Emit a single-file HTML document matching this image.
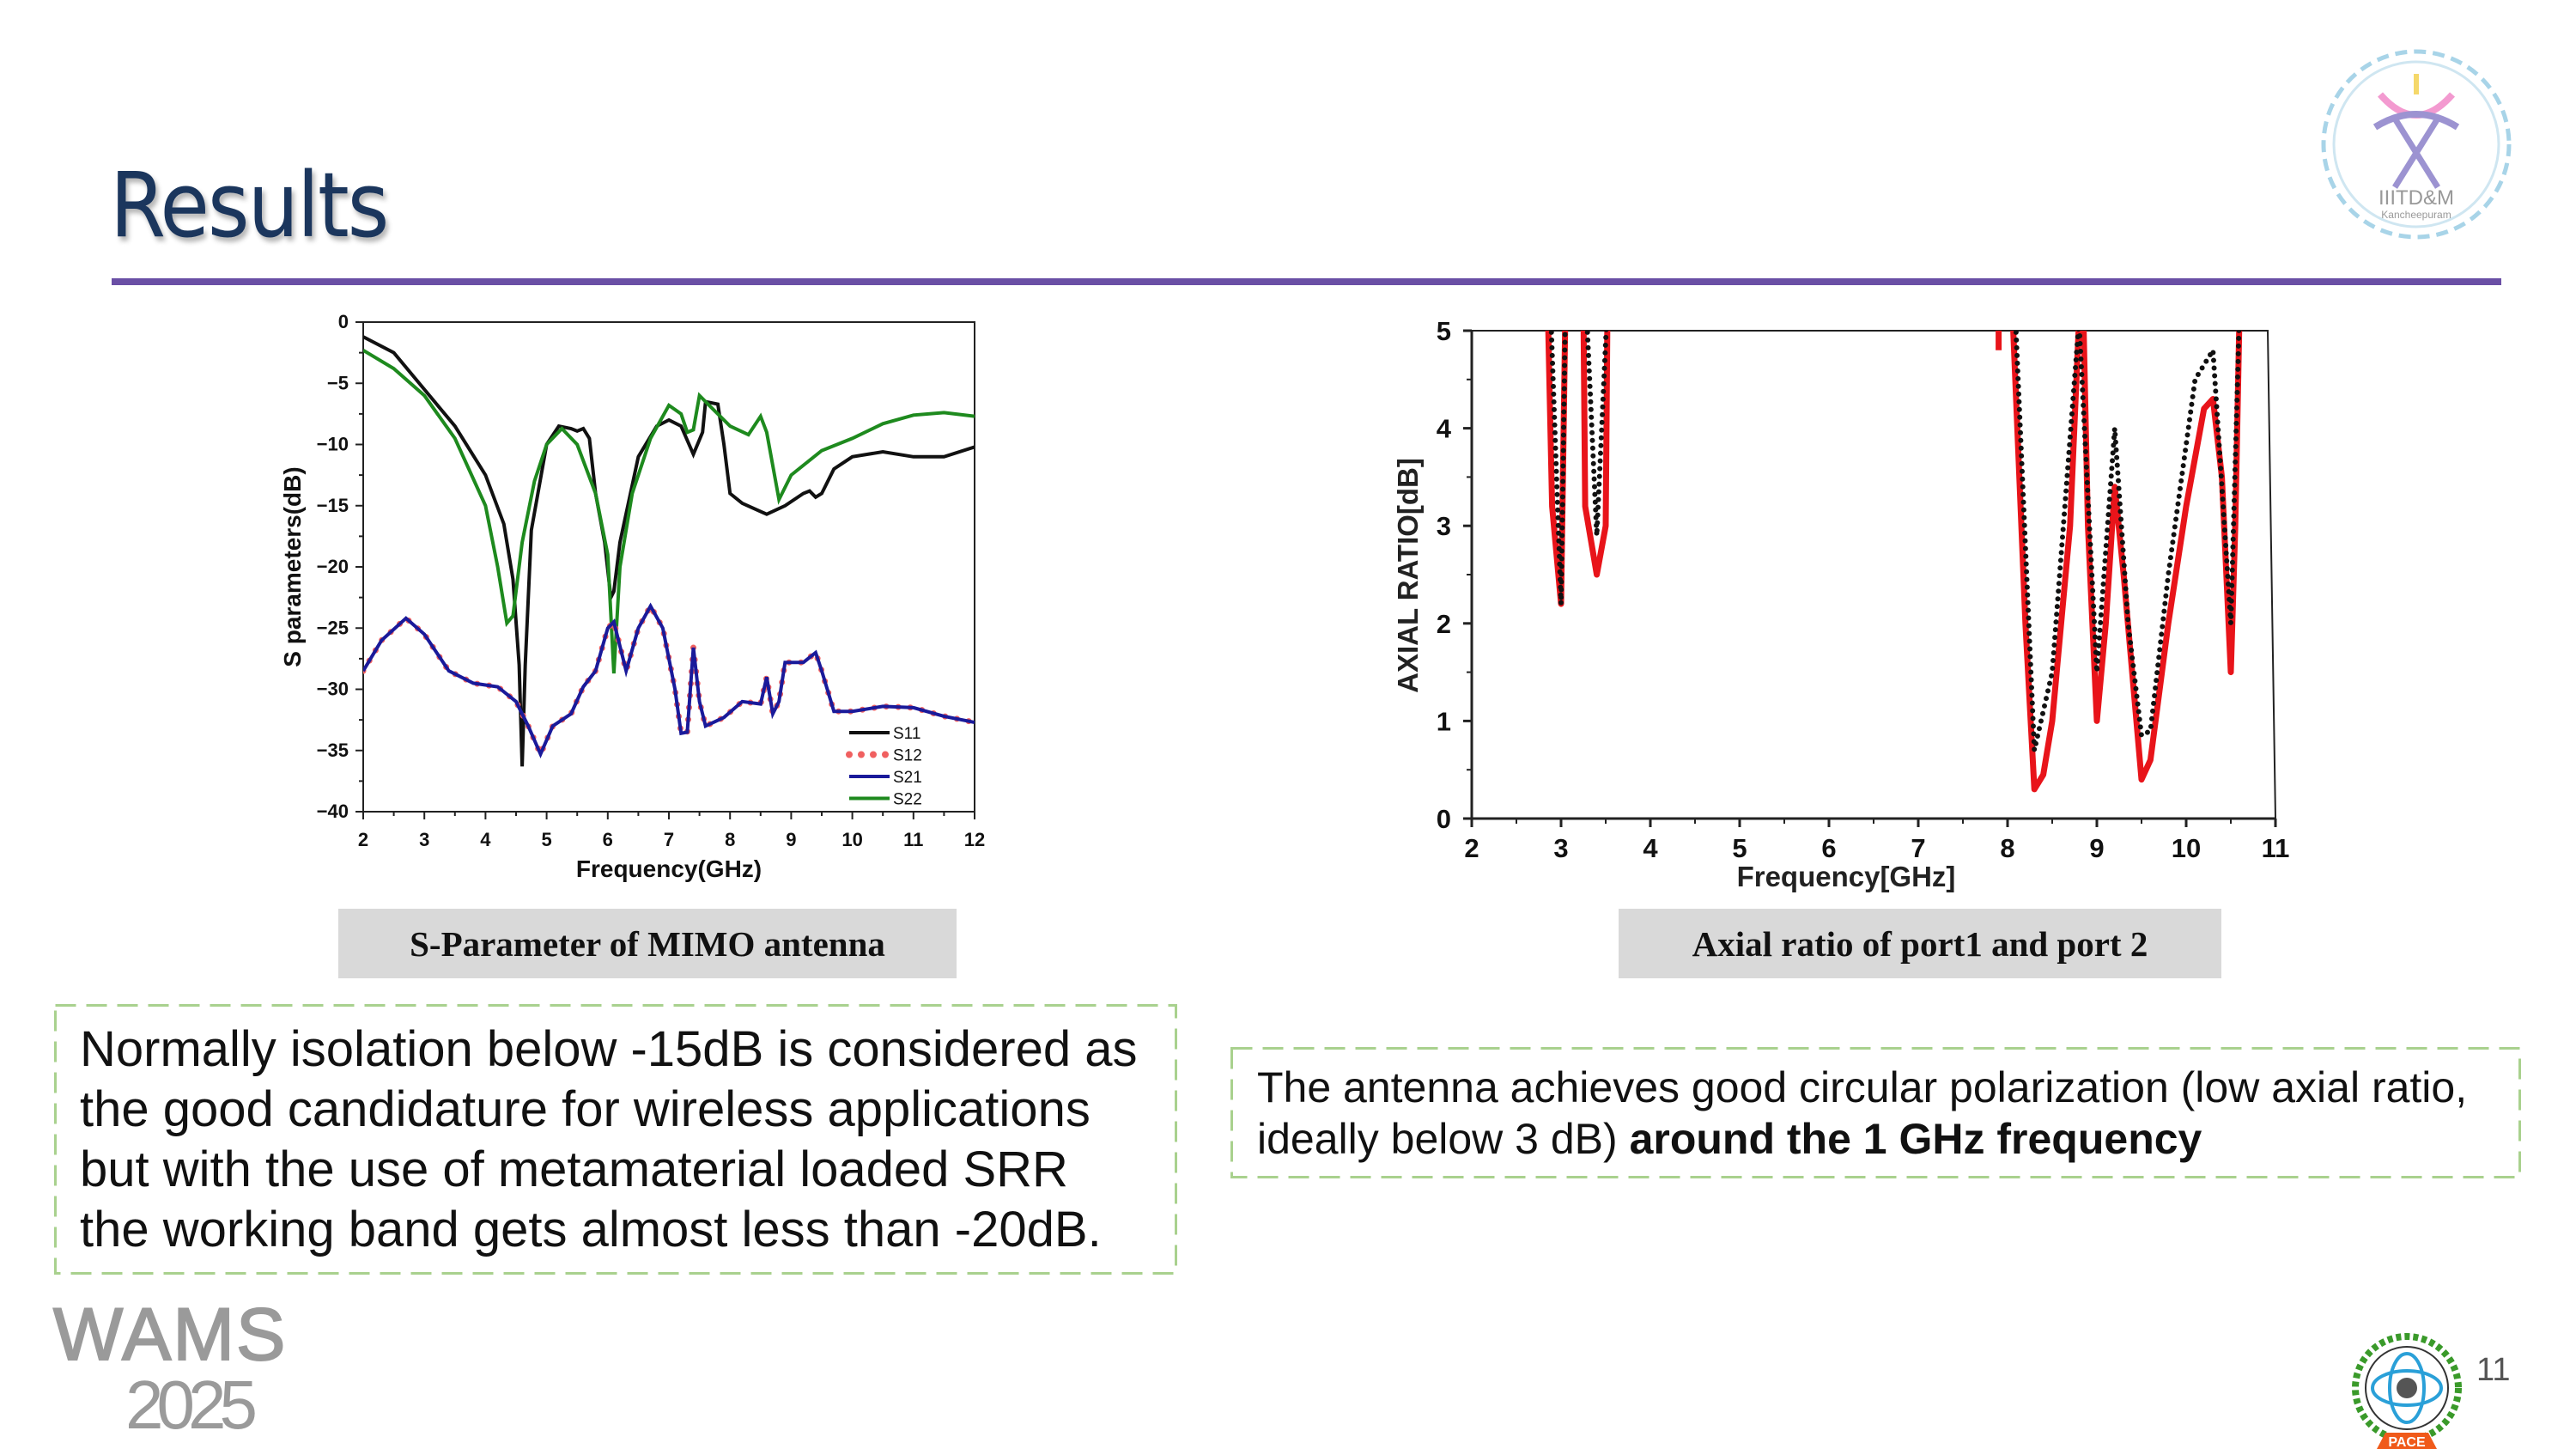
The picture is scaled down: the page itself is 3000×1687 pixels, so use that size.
<!DOCTYPE html>
<html><head><meta charset="utf-8"><style>
html,body{margin:0;padding:0;background:#fff;}
body{width:3000px;height:1687px;position:relative;overflow:hidden;font-family:"Liberation Sans",sans-serif;}
.abs{position:absolute;}
.cap{position:absolute;background:#d9d9d9;font-family:"Liberation Serif",serif;font-weight:bold;font-size:41px;color:#111;display:flex;align-items:center;justify-content:center;}
.box{position:absolute;box-sizing:border-box;color:#111;}
.box svg{position:absolute;left:0;top:0;}
</style></head><body>
<div class="abs" style="left:128px;top:178px;font-size:104px;color:#1b365d;font-family:'DejaVu Sans Condensed','Liberation Sans Narrow',sans-serif;text-shadow:3px 5px 6px rgba(0,0,0,0.3);letter-spacing:-2px;">Results</div>
<div class="abs" style="left:130px;top:324px;width:2783px;height:8px;background:#6a4fa5;"></div>

<svg class="abs" style="left:2694px;top:48px" width="240" height="240" viewBox="0 0 240 240">
<circle cx="120" cy="120" r="108" fill="none" stroke="#a8d4e8" stroke-width="5" stroke-dasharray="14 8"/>
<circle cx="120" cy="120" r="96" fill="none" stroke="#cfe6f1" stroke-width="3"/>
<line x1="120" y1="38" x2="120" y2="62" stroke="#f5d86a" stroke-width="6"/>
<path d="M78 62 Q120 110 162 62" fill="none" stroke="#f39ad0" stroke-width="8"/>
<path d="M72 100 Q120 70 168 100" fill="none" stroke="#9c93d1" stroke-width="8"/>
<path d="M95 170 L145 90 M145 170 L95 90" stroke="#9c93d1" stroke-width="7"/>
<text x="120" y="190" text-anchor="middle" font-size="24" fill="#999" font-family="Liberation Sans">IIITD&amp;M</text>
<text x="120" y="206" text-anchor="middle" font-size="12" fill="#999" font-family="Liberation Sans">Kancheepuram</text>
</svg>

<svg class="abs" style="left:0;top:0" width="1500" height="1060" id="chart1"></svg>
<svg class="abs" style="left:1500px;top:0" width="1300" height="1060" id="chart2"></svg>

<div class="cap" style="left:394px;top:1058px;width:720px;height:81px;">S-Parameter of MIMO antenna</div>
<div class="cap" style="left:1885px;top:1058px;width:702px;height:81px;">Axial ratio of port1 and port 2</div>

<div class="box" style="left:63px;top:1169px;width:1308px;height:315px;padding:18px 0 0 30px;font-size:58px;line-height:70px;"><svg width="1308" height="315"><rect x="1.5" y="1.5" width="1305" height="312" fill="none" stroke="#a9d18e" stroke-width="3" stroke-dasharray="24 12"/></svg><span style="position:relative">Normally isolation below -15dB is considered as<br>the good candidature for wireless applications<br>but with the use of metamaterial loaded SRR<br>the working band gets almost less than -20dB.</span></div>
<div class="box" style="left:1433px;top:1219px;width:1503px;height:153px;padding:17px 0 0 31px;font-size:50px;line-height:60px;"><svg width="1503" height="153"><rect x="1.5" y="1.5" width="1500" height="150" fill="none" stroke="#a9d18e" stroke-width="3" stroke-dasharray="24 12"/></svg><span style="position:relative">The antenna achieves good circular polarization (low axial ratio,<br>ideally below 3 dB) <b>around the 1 GHz frequency</b></span></div>

<div class="abs" style="left:62px;top:1505px;font-size:86px;color:#9a9a9a;letter-spacing:2px;-webkit-text-stroke:2px #9a9a9a;">WAMS</div>
<div class="abs" style="left:146px;top:1590px;font-size:80px;color:#9a9a9a;letter-spacing:-8px;">2025</div>

<svg class="abs" style="left:2733px;top:1550px" width="140" height="137" viewBox="0 0 140 137">
<circle cx="70" cy="66" r="60" fill="none" stroke="#3a9a2a" stroke-width="8" stroke-dasharray="6 4"/>
<circle cx="70" cy="66" r="48" fill="none" stroke="#333" stroke-width="2"/>
<ellipse cx="70" cy="66" rx="20" ry="40" fill="none" stroke="#2aa0d8" stroke-width="4"/>
<ellipse cx="70" cy="66" rx="40" ry="20" fill="none" stroke="#2aa0d8" stroke-width="4"/>
<circle cx="70" cy="66" r="12" fill="#555"/>
<path d="M45 118 L95 118 L105 137 L35 137 Z" fill="#f05a1a"/>
<text x="70" y="134" text-anchor="middle" font-size="16" fill="#fff" font-weight="bold" font-family="Liberation Sans">PACE</text>
</svg>
<div class="abs" style="left:2884px;top:1574px;font-size:38px;color:#555;">11</div>

<script>
const NS='http://www.w3.org/2000/svg';
// ---- S-parameter data ----
const sFreqTicks=[2,3,4,5,6,7,8,9,10,11,12];
const sDbTicks=[0,-5,-10,-15,-20,-25,-30,-35,-40];
const s11F=[2,2.5,3,3.5,4,4.3,4.45,4.55,4.6,4.65,4.75,5,5.2,5.4,5.5,5.6,5.7,5.8,5.95,6.05,6.1,6.2,6.5,6.8,7,7.2,7.4,7.55,7.6,7.8,7.9,8,8.2,8.6,8.9,9.2,9.3,9.4,9.5,9.7,10,10.5,11,11.5,12];
const s11V=[-1.2,-2.5,-5.5,-8.5,-12.5,-16.5,-21,-28,-36.3,-28,-17,-10,-8.5,-8.7,-8.9,-8.7,-9.5,-14,-18,-22.5,-22,-18,-11,-8.5,-8,-8.5,-10.8,-9,-6.5,-6.7,-10,-14,-14.8,-15.7,-15,-14,-13.8,-14.3,-14,-12,-11,-10.6,-11,-11,-10.2];
const s22F=[2,2.5,3,3.5,4,4.2,4.35,4.45,4.6,4.8,5,5.25,5.5,5.8,6,6.1,6.2,6.4,6.7,7,7.2,7.3,7.4,7.5,7.7,8,8.3,8.5,8.6,8.8,9,9.5,10,10.5,11,11.5,12];
const s22V=[-2.3,-3.8,-6,-9.5,-15,-20,-24.6,-24,-18,-13,-10,-8.7,-10,-14,-19,-28.7,-20,-14,-9.5,-6.8,-7.5,-9,-8.8,-6,-7,-8.5,-9.2,-7.7,-9,-14.5,-12.5,-10.5,-9.5,-8.3,-7.6,-7.4,-7.7];
const s21F=[2,2.3,2.7,3,3.4,3.8,4.2,4.5,4.7,4.9,5.1,5.4,5.6,5.8,6,6.1,6.3,6.5,6.7,6.9,7.1,7.2,7.3,7.4,7.5,7.6,7.9,8.2,8.5,8.6,8.7,8.8,8.9,9.2,9.4,9.5,9.7,10,10.5,11,11.5,12];
const s21V=[-28.5,-26,-24.2,-25.5,-28.5,-29.5,-29.8,-31,-33,-35.3,-33,-32,-29.8,-28.5,-25,-24.5,-28.5,-25,-23.2,-25,-30,-33.6,-33.5,-26.6,-31,-33,-32.3,-31,-31.2,-29,-32,-31,-27.8,-27.8,-27,-28.5,-31.8,-31.8,-31.4,-31.5,-32.2,-32.7];
const s12V=s21V;
const legendNames=['S11','S12','S21','S22'];
// ---- Axial ratio data (NaN = gap, values >5 clipped) ----
const arFreqTicks=[2,3,4,5,6,7,8,9,10,11];
const arTicks=[0,1,2,3,4,5];
const arRedF=[2.85,2.9,3,3.05,NaN,3.25,3.27,3.4,3.5,3.52,NaN,7.9,7.9,NaN,8.05,8.2,8.3,8.4,8.5,8.6,8.7,8.8,8.85,8.9,9,9.1,9.2,9.3,9.5,9.6,9.8,10,10.2,10.3,10.4,10.5,10.55,10.6];
const arRedV=[5.3,3.2,2.2,5.3,NaN,5.3,3.2,2.5,3,5.3,NaN,4.8,5.1,NaN,5.3,2,0.3,0.45,1,2,3,5.1,5.1,3,1,2,3.4,2.5,0.4,0.6,2,3.2,4.2,4.3,3.5,1.5,3,5.3];
const arBlkF=[2.88,3,3.05,NaN,3.28,3.4,3.52,NaN,8.08,8.3,8.5,8.8,9,9.2,9.35,9.5,9.6,9.8,10.1,10.3,10.5,10.6];
const arBlkV=[5.3,2.2,5.3,NaN,5.3,2.9,5.3,NaN,5.3,0.7,1.5,5.1,1.5,4,2,0.85,0.9,2.5,4.5,4.8,2,5.3];

function el(svg,tag,attrs,txt){const e=document.createElementNS(NS,tag);for(const k in attrs)e.setAttribute(k,attrs[k]);if(txt!==undefined)e.textContent=txt;svg.appendChild(e);return e;}
function pathD(F,V,xs,ys){let d='',pen=false;for(let i=0;i<F.length;i++){if(isNaN(F[i])||isNaN(V[i])){pen=false;continue;}d+=(pen?'L':'M')+xs(F[i]).toFixed(1)+' '+ys(V[i]).toFixed(1)+' ';pen=true;}return d;}

// Chart 1
(function(){
const svg=document.getElementById('chart1');
const L=423,R=1135,T=375,B=945;
const xs=f=>L+(f-2)/10*(R-L), ys=v=>T+(0-v)/40*(B-T);
const clip=el(svg,'clipPath',{id:'c1'});el(clip,'rect',{x:L,y:T,width:R-L,height:B-T});
el(svg,'rect',{x:L,y:T,width:R-L,height:B-T,fill:'#fff',stroke:'#222','stroke-width':2});
sFreqTicks.forEach(f=>{
 const t=el(svg,'line',{x1:xs(f),x2:xs(f),y1:B,y2:B+9,stroke:'#222','stroke-width':2});
 
 if(f<12){el(svg,'line',{x1:xs(f+0.5),x2:xs(f+0.5),y1:B,y2:B+5,stroke:'#222','stroke-width':2});}
 const l=el(svg,'text',{x:xs(f),y:985,'text-anchor':'middle','font-size':22,'font-weight':'bold',fill:'#111'},f);
 
});
sDbTicks.forEach(v=>{
 el(svg,'line',{x1:L-9,x2:L,y1:ys(v),y2:ys(v),stroke:'#222','stroke-width':2});
 if(v>-40)el(svg,'line',{x1:L-5,x2:L,y1:ys(v-2.5),y2:ys(v-2.5),stroke:'#222','stroke-width':2});
 const l=el(svg,'text',{x:406,y:ys(v)+7,'text-anchor':'end','font-size':22,'font-weight':'bold',fill:'#111'},v===0?'0':'\u2212'+(-v));
 
});
const xt=el(svg,'text',{x:779,y:1021,'text-anchor':'middle','font-size':28,'font-weight':'bold',fill:'#111'},'Frequency(GHz)');

const yt=el(svg,'text',{x:0,y:0,transform:'translate(350,660) rotate(-90)','text-anchor':'middle','font-size':28,'font-weight':'bold',fill:'#111'},'S parameters(dB)');

const g=el(svg,'g',{'clip-path':'url(#c1)',fill:'none'});
const a=el(g,'path',{d:pathD(s11F,s11V,xs,ys),stroke:'#111','stroke-width':4});
const b=el(g,'path',{d:pathD(s22F,s22V,xs,ys),stroke:'#1e8a1e','stroke-width':4});
const c=el(g,'path',{d:pathD(s21F,s12V,xs,ys),stroke:'#f06060','stroke-width':7,'stroke-dasharray':'0 14','stroke-linecap':'round'});
const d=el(g,'path',{d:pathD(s21F,s21V,xs,ys),stroke:'#1a1a9a','stroke-width':4});
const styles=[{stroke:'#111','stroke-width':4},{stroke:'#f06060','stroke-width':8,'stroke-dasharray':'0 14','stroke-linecap':'round'},{stroke:'#1a1a9a','stroke-width':4},{stroke:'#1e8a1e','stroke-width':4}];
legendNames.forEach((n,i)=>{
 const y=853+i*25.5;
 const ln=el(svg,'line',Object.assign({x1:989,x2:1036,y1:y,y2:y},styles[i]));
 
 const t=el(svg,'text',{x:1040,y:y+7,'font-size':19,fill:'#111'},n);
 
});
})();

// Chart 2
(function(){
const svg=document.getElementById('chart2');
const ox=1500;
const L=1714-ox,R=2641-ox,T=385,B=953;
const xs=f=>L+(f-2)/9*(2650-1714), ys=v=>T+(5-v)/5*(B-T);
const clip=el(svg,'clipPath',{id:'c2'});el(clip,'rect',{x:L,y:T,width:R-L,height:B-T});
el(svg,'path',{d:`M${L} ${T} L${R} ${T} L${2650-ox} ${B} L${L} ${B} Z`,fill:'#fff',stroke:'#222','stroke-width':2});
el(svg,'line',{x1:L,x2:2650-ox,y1:B,y2:B,stroke:'#222','stroke-width':3});
el(svg,'line',{x1:L,x2:L,y1:T,y2:B,stroke:'#222','stroke-width':3});
arFreqTicks.forEach(f=>{
 el(svg,'line',{x1:xs(f),x2:xs(f),y1:B,y2:B+10,stroke:'#222','stroke-width':3});
 if(f<11)el(svg,'line',{x1:xs(f+0.5),x2:xs(f+0.5),y1:B,y2:B+6,stroke:'#222','stroke-width':2});
 const l=el(svg,'text',{x:xs(f),y:998,'text-anchor':'middle','font-size':31,'font-weight':'bold',fill:'#111'},f);
 
});
arTicks.forEach(v=>{
 el(svg,'line',{x1:L-10,x2:L,y1:ys(v),y2:ys(v),stroke:'#222','stroke-width':3});
 if(v<5)el(svg,'line',{x1:L-6,x2:L,y1:ys(v+0.5),y2:ys(v+0.5),stroke:'#222','stroke-width':2});
 const l=el(svg,'text',{x:1690-ox,y:ys(v)+11,'text-anchor':'end','font-size':31,'font-weight':'bold',fill:'#111'},v);
 
});
const xt=el(svg,'text',{x:2150-ox,y:1032,'text-anchor':'middle','font-size':33,'font-weight':'bold',fill:'#222'},'Frequency[GHz]');

const yt=el(svg,'text',{x:0,y:0,transform:`translate(${1651-ox},670) rotate(-90)`,'text-anchor':'middle','font-size':33,'font-weight':'bold',fill:'#222'},'AXIAL RATIO[dB]');

const g=el(svg,'g',{'clip-path':'url(#c2)',fill:'none'});
const r=el(g,'path',{d:pathD(arRedF,arRedV,xs,ys),stroke:'#e8141a','stroke-width':7,'stroke-linejoin':'round'});

const k=el(g,'path',{d:pathD(arBlkF,arBlkV,xs,ys),stroke:'#111','stroke-width':6,'stroke-dasharray':'0 9','stroke-linecap':'round'});

})();
</script>
</body></html>
